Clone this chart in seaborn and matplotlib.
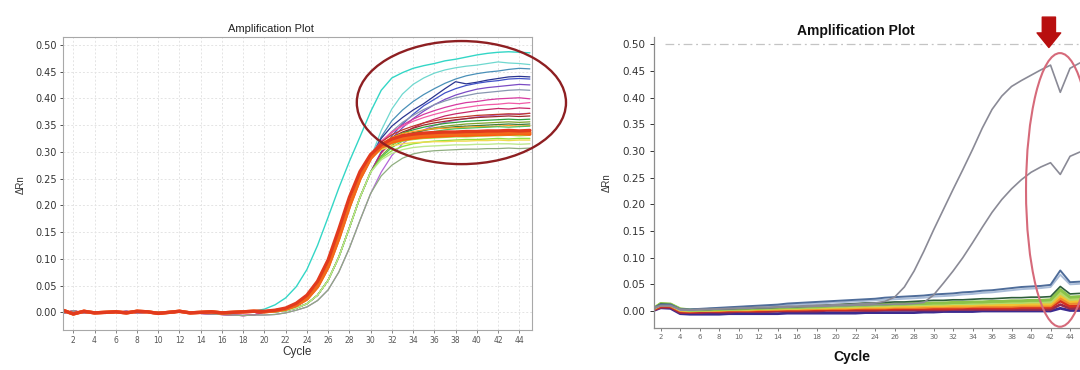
import matplotlib
matplotlib.use("Agg")
import matplotlib.pyplot as plt
import seaborn as sns
from matplotlib.patches import Ellipse

sns.set_theme(style="white")
plt.rcParams['font.family'] = ['DejaVu Sans']

# ---------------- data ----------------
cycles = list(range(1, 46))
x_ticks = list(range(2, 46, 2))
y_ticks = [0.00, 0.05, 0.10, 0.15, 0.20, 0.25, 0.30, 0.35, 0.40, 0.45, 0.50]

# Left panel: baselines (cycles 1-19), rise (cycles 20-30), plateau (cycles 31-45)
base_a = [0.004, -0.003, 0.002, -0.001, 0.000, 0.001, -0.001, 0.002, 0.001, -0.002,
          0.000, 0.002, -0.001, 0.000, 0.001, -0.001, 0.000, 0.001, 0.002]
base_b = [-0.002, 0.003, -0.001, 0.001, -0.002, 0.000, 0.002, -0.001, 0.000, 0.001,
          -0.002, 0.001, 0.000, -0.002, -0.003, -0.004, -0.005, -0.006, -0.005]

rise_early = [0.006, 0.014, 0.027, 0.048, 0.080, 0.125, 0.178, 0.232, 0.282, 0.328, 0.375]
rise_main = [0.001, 0.003, 0.006, 0.013, 0.025, 0.048, 0.085, 0.138, 0.198, 0.250, 0.288]
rise_fast = [0.002, 0.004, 0.008, 0.017, 0.032, 0.058, 0.098, 0.155, 0.215, 0.263, 0.295]
rise_late = [0.000, 0.001, 0.003, 0.008, 0.016, 0.032, 0.060, 0.103, 0.158, 0.215, 0.262]
rise_slow = [-0.005, -0.004, -0.001, 0.004, 0.010, 0.022, 0.042, 0.075, 0.120, 0.172, 0.222]

plat_cyan_a = [0.415, 0.438, 0.448, 0.456, 0.461, 0.465, 0.470, 0.473, 0.477, 0.481, 0.484, 0.486, 0.487, 0.486, 0.485]
plat_cyan_b = [0.340, 0.380, 0.408, 0.426, 0.438, 0.447, 0.453, 0.457, 0.460, 0.462, 0.465, 0.468, 0.466, 0.465, 0.463]
plat_steel = [0.328, 0.358, 0.378, 0.394, 0.407, 0.418, 0.428, 0.436, 0.442, 0.446, 0.449, 0.451, 0.454, 0.456, 0.455]
plat_navy = [0.325, 0.348, 0.364, 0.378, 0.390, 0.404, 0.418, 0.431, 0.427, 0.430, 0.434, 0.437, 0.440, 0.441, 0.440]
plat_blue = [0.300, 0.330, 0.352, 0.370, 0.386, 0.398, 0.410, 0.418, 0.424, 0.428, 0.431, 0.433, 0.436, 0.437, 0.436]
plat_purple = [0.298, 0.325, 0.345, 0.362, 0.376, 0.388, 0.398, 0.406, 0.412, 0.417, 0.420, 0.422, 0.424, 0.426, 0.425]
plat_greyblue = [0.318, 0.338, 0.355, 0.368, 0.379, 0.388, 0.395, 0.401, 0.405, 0.409, 0.411, 0.413, 0.415, 0.416, 0.415]
plat_magenta = [0.318, 0.336, 0.350, 0.361, 0.370, 0.377, 0.383, 0.388, 0.392, 0.394, 0.397, 0.399, 0.400, 0.401, 0.399]
plat_hotpink = [0.320, 0.337, 0.348, 0.357, 0.364, 0.370, 0.375, 0.380, 0.383, 0.386, 0.388, 0.389, 0.391, 0.390, 0.392]
plat_deeppink = [0.298, 0.318, 0.333, 0.345, 0.354, 0.361, 0.367, 0.371, 0.374, 0.377, 0.379, 0.381, 0.380, 0.382, 0.381]
plat_violet = [0.262, 0.293, 0.315, 0.330, 0.341, 0.349, 0.355, 0.359, 0.362, 0.365, 0.367, 0.369, 0.370, 0.371, 0.372]
plat_crimson = [0.318, 0.332, 0.341, 0.348, 0.354, 0.358, 0.362, 0.364, 0.366, 0.368, 0.369, 0.370, 0.371, 0.370, 0.372]
plat_darkred = [0.312, 0.327, 0.337, 0.344, 0.350, 0.354, 0.357, 0.360, 0.362, 0.364, 0.365, 0.366, 0.367, 0.366, 0.367]
plat_green = [0.312, 0.326, 0.335, 0.341, 0.346, 0.350, 0.353, 0.355, 0.357, 0.358, 0.359, 0.360, 0.361, 0.360, 0.361]
plat_olive = [0.292, 0.312, 0.325, 0.334, 0.340, 0.345, 0.348, 0.350, 0.352, 0.353, 0.354, 0.355, 0.356, 0.355, 0.356]
plat_darkgreen = [0.310, 0.322, 0.330, 0.336, 0.340, 0.343, 0.345, 0.347, 0.348, 0.349, 0.350, 0.351, 0.352, 0.351, 0.352]
plat_orange = [0.315, 0.327, 0.334, 0.338, 0.341, 0.343, 0.344, 0.345, 0.346, 0.347, 0.347, 0.348, 0.349, 0.348, 0.349]
plat_green2 = [0.290, 0.308, 0.320, 0.328, 0.334, 0.338, 0.341, 0.343, 0.344, 0.345, 0.346, 0.347, 0.346, 0.347, 0.348]
plat_yellowgreen = [0.306, 0.315, 0.320, 0.323, 0.325, 0.326, 0.327, 0.328, 0.328, 0.329, 0.330, 0.330, 0.331, 0.330, 0.331]
plat_lime = [0.288, 0.302, 0.310, 0.315, 0.318, 0.320, 0.321, 0.322, 0.323, 0.323, 0.324, 0.325, 0.324, 0.325, 0.325]
plat_yellow = [0.304, 0.311, 0.315, 0.317, 0.318, 0.319, 0.319, 0.320, 0.320, 0.321, 0.321, 0.322, 0.321, 0.322, 0.322]
plat_lightgreen = [0.285, 0.297, 0.304, 0.308, 0.310, 0.311, 0.312, 0.313, 0.313, 0.314, 0.314, 0.315, 0.315, 0.314, 0.315]
plat_sage = [0.255, 0.275, 0.288, 0.296, 0.300, 0.302, 0.303, 0.304, 0.305, 0.305, 0.306, 0.306, 0.307, 0.306, 0.307]
plat_thick1 = [0.310, 0.320, 0.326, 0.329, 0.331, 0.332, 0.333, 0.333, 0.334, 0.334, 0.335, 0.335, 0.336, 0.335, 0.336]
plat_thick2 = [0.313, 0.324, 0.330, 0.333, 0.335, 0.336, 0.337, 0.337, 0.338, 0.338, 0.339, 0.339, 0.340, 0.339, 0.340]
plat_thick3 = [0.309, 0.318, 0.323, 0.326, 0.328, 0.329, 0.330, 0.331, 0.331, 0.332, 0.332, 0.333, 0.333, 0.334, 0.333]

# Right panel: full series, cycles 1-45
r_grey_high = [0.004, 0.010, 0.010, 0.003, 0.002, 0.003, 0.003, 0.004, 0.005, 0.005,
               0.006, 0.007, 0.007, 0.008, 0.009, 0.009, 0.010, 0.011, 0.011, 0.012,
               0.012, 0.013, 0.014, 0.015, 0.018, 0.026, 0.045, 0.075, 0.112, 0.152,
               0.190, 0.228, 0.265, 0.303, 0.343, 0.378, 0.403, 0.421, 0.432, 0.442,
               0.452, 0.461, 0.410, 0.455, 0.465]
r_grey_low = [0.004, 0.010, 0.010, 0.003, 0.002, 0.003, 0.003, 0.004, 0.004, 0.005,
              0.005, 0.006, 0.006, 0.007, 0.007, 0.008, 0.008, 0.009, 0.009, 0.010,
              0.010, 0.011, 0.011, 0.012, 0.012, 0.013, 0.013, 0.014, 0.016, 0.030,
              0.052, 0.075, 0.100, 0.128, 0.157, 0.185, 0.209, 0.229, 0.246, 0.260,
              0.270, 0.278, 0.256, 0.290, 0.298]
r_blue = [0.003, 0.012, 0.012, 0.003, 0.003, 0.004, 0.005, 0.006, 0.007, 0.008,
          0.009, 0.010, 0.011, 0.012, 0.014, 0.015, 0.016, 0.017, 0.018, 0.019,
          0.020, 0.021, 0.022, 0.023, 0.025, 0.026, 0.027, 0.028, 0.029, 0.031,
          0.032, 0.033, 0.035, 0.036, 0.038, 0.039, 0.041, 0.043, 0.045, 0.046,
          0.047, 0.049, 0.076, 0.054, 0.055]
r_lightblue = [0.003, 0.011, 0.011, 0.002, 0.002, 0.003, 0.004, 0.005, 0.006, 0.007,
               0.008, 0.008, 0.009, 0.010, 0.011, 0.012, 0.013, 0.014, 0.015, 0.016,
               0.017, 0.018, 0.019, 0.020, 0.021, 0.022, 0.023, 0.024, 0.025, 0.027,
               0.028, 0.029, 0.031, 0.032, 0.034, 0.035, 0.037, 0.039, 0.041, 0.042,
               0.043, 0.045, 0.068, 0.050, 0.051]
r_darkgreen = [0.002, 0.013, 0.012, 0.003, 0.002, 0.003, 0.003, 0.004, 0.004, 0.005,
               0.005, 0.006, 0.006, 0.007, 0.008, 0.008, 0.009, 0.010, 0.011, 0.012,
               0.013, 0.014, 0.015, 0.015, 0.016, 0.017, 0.017, 0.018, 0.019, 0.020,
               0.020, 0.021, 0.021, 0.022, 0.023, 0.023, 0.024, 0.025, 0.025, 0.026,
               0.026, 0.027, 0.046, 0.032, 0.033]
r_green = [0.001, 0.014, 0.013, 0.004, 0.002, 0.002, 0.003, 0.003, 0.004, 0.004,
           0.005, 0.005, 0.006, 0.006, 0.007, 0.007, 0.008, 0.008, 0.009, 0.010,
           0.010, 0.011, 0.011, 0.012, 0.012, 0.013, 0.013, 0.014, 0.014, 0.015,
           0.015, 0.016, 0.016, 0.017, 0.017, 0.018, 0.018, 0.019, 0.019, 0.020,
           0.020, 0.021, 0.040, 0.026, 0.027]
r_lime = [0.002, 0.013, 0.012, 0.003, 0.001, 0.002, 0.002, 0.003, 0.003, 0.004,
          0.004, 0.005, 0.005, 0.006, 0.006, 0.006, 0.007, 0.007, 0.008, 0.008,
          0.009, 0.009, 0.010, 0.010, 0.011, 0.011, 0.012, 0.012, 0.012, 0.013,
          0.013, 0.014, 0.014, 0.014, 0.015, 0.015, 0.016, 0.016, 0.016, 0.017,
          0.017, 0.017, 0.034, 0.022, 0.023]
r_yellow = [0.003, 0.012, 0.012, 0.002, 0.001, 0.001, 0.002, 0.002, 0.003, 0.003,
            0.003, 0.004, 0.004, 0.005, 0.005, 0.005, 0.006, 0.006, 0.006, 0.007,
            0.007, 0.007, 0.008, 0.008, 0.008, 0.009, 0.009, 0.009, 0.010, 0.010,
            0.010, 0.011, 0.011, 0.011, 0.012, 0.012, 0.012, 0.012, 0.013, 0.013,
            0.013, 0.013, 0.029, 0.018, 0.019]
r_orange = [0.002, 0.011, 0.010, 0.001, 0.000, 0.001, 0.001, 0.001, 0.002, 0.002,
            0.002, 0.003, 0.003, 0.003, 0.004, 0.004, 0.004, 0.005, 0.005, 0.005,
            0.005, 0.006, 0.006, 0.006, 0.006, 0.007, 0.007, 0.007, 0.007, 0.008,
            0.008, 0.008, 0.008, 0.009, 0.009, 0.009, 0.009, 0.009, 0.010, 0.010,
            0.010, 0.010, 0.024, 0.014, 0.015]
r_red = [0.001, 0.009, 0.009, 0.000, -0.001, 0.000, 0.000, 0.000, 0.001, 0.001,
         0.001, 0.001, 0.002, 0.002, 0.002, 0.002, 0.003, 0.003, 0.003, 0.003,
         0.003, 0.004, 0.004, 0.004, 0.004, 0.004, 0.005, 0.005, 0.005, 0.005,
         0.005, 0.005, 0.006, 0.006, 0.006, 0.006, 0.006, 0.006, 0.007, 0.007,
         0.007, 0.007, 0.019, 0.009, 0.010]
r_maroon = [0.000, 0.007, 0.007, -0.003, -0.003, -0.003, -0.002, -0.002, -0.002, -0.001,
            -0.001, -0.001, -0.001, 0.000, 0.000, 0.000, 0.000, 0.000, 0.001, 0.001,
            0.001, 0.001, 0.001, 0.001, 0.002, 0.002, 0.002, 0.002, 0.002, 0.002,
            0.002, 0.003, 0.003, 0.003, 0.003, 0.003, 0.003, 0.003, 0.003, 0.003,
            0.003, 0.003, 0.012, 0.005, 0.005]
r_purple = [-0.001, 0.006, 0.005, -0.005, -0.006, -0.006, -0.006, -0.006, -0.005, -0.005,
            -0.005, -0.005, -0.005, -0.005, -0.004, -0.004, -0.004, -0.004, -0.004, -0.004,
            -0.004, -0.004, -0.003, -0.003, -0.003, -0.003, -0.003, -0.003, -0.002, -0.002,
            -0.001, -0.001, -0.001, -0.001, 0.000, 0.000, 0.000, 0.000, 0.000, 0.000,
            0.000, 0.000, 0.005, 0.001, 0.001]

# ---------------- figure ----------------
W, H = 1080, 370
fig = plt.figure(figsize=(W / 100, H / 100), dpi=100)
fig.patch.set_facecolor("white")


def px_axes(l, t, r, b):
    return [l / W, 1 - b / H, (r - l) / W, (b - t) / H]


axL = fig.add_axes(px_axes(63.3, 37.3, 531.7, 330))
axR = fig.add_axes(px_axes(654, 37, 1090, 327.7))

left_series = [
    (base_a + rise_main + plat_cyan_b, "#6fd8cf", 0.9),
    (base_a + rise_main + plat_steel, "#4a90b8", 0.9),
    (base_a + rise_main + plat_navy, "#2a3590", 0.9),
    (base_a + rise_late + plat_blue, "#4152c8", 0.9),
    (base_b + rise_late + plat_purple, "#7b4bc4", 0.9),
    (base_a + rise_main + plat_greyblue, "#8896b0", 0.9),
    (base_b + rise_main + plat_magenta, "#d63aa0", 0.9),
    (base_b + rise_fast + plat_hotpink, "#f25ca8", 0.9),
    (base_b + rise_late + plat_deeppink, "#c8286a", 0.9),
    (base_b + rise_slow + plat_violet, "#b366d9", 0.9),
    (base_a + rise_fast + plat_crimson, "#c0392b", 0.9),
    (base_a + rise_main + plat_darkred, "#9e2a2a", 0.9),
    (base_a + rise_main + plat_green, "#2e9e3e", 0.9),
    (base_a + rise_late + plat_olive, "#7fa32b", 0.9),
    (base_a + rise_main + plat_darkgreen, "#3c7a3c", 0.9),
    (base_a + rise_fast + plat_orange, "#ffa020", 0.9),
    (base_a + rise_late + plat_green2, "#55c05a", 0.9),
    (base_a + rise_main + plat_yellowgreen, "#a8d83a", 1.0),
    (base_a + rise_late + plat_lime, "#8ee040", 1.0),
    (base_a + rise_main + plat_yellow, "#f0dc50", 1.0),
    (base_a + rise_late + plat_lightgreen, "#bde890", 1.0),
    (base_b + rise_slow + plat_sage, "#8fae80", 0.9),
    (base_a + rise_early + plat_cyan_a, "#33d6c6", 1.0),
    (base_a + rise_main + plat_thick3, "#ff5a10", 2.4),
    (base_a + rise_main + plat_thick1, "#f26a1b", 2.4),
    (base_a + rise_fast + plat_thick2, "#e23a1e", 2.4),
]

for vals, col, lw in left_series:
    sns.lineplot(x=cycles, y=vals, ax=axL, color=col, lw=lw, errorbar=None, legend=False)

right_series = [
    (r_purple, "#3b2b8f", 2.0),
    (r_maroon, "#9c2a4a", 2.0),
    (r_red, "#d7301f", 2.2),
    (r_orange, "#ef8a2c", 2.2),
    (r_yellow, "#f1c232", 2.2),
    (r_lime, "#b7d968", 2.2),
    (r_green, "#8bc34a", 2.2),
    (r_darkgreen, "#2e5e3a", 1.2),
    (r_lightblue, "#a9bcd8", 1.4),
    (r_blue, "#4f6d9a", 1.4),
    (r_grey_low, "#8a8a96", 1.2),
    (r_grey_high, "#8a8a96", 1.2),
]
for vals, col, lw in right_series:
    sns.lineplot(x=cycles, y=vals, ax=axR, color=col, lw=lw, errorbar=None, legend=False)

# ---------- left axes styling ----------
axL.set_xlim(1.06, 45.17)
axL.set_ylim(-0.033, 0.514)
axL.set_xticks(x_ticks)
axL.set_yticks(y_ticks)
axL.set_yticklabels([f"{v:.2f}" for v in y_ticks])
axL.set_xlabel("")
axL.set_ylabel("")
axL.grid(True, color="#e4e4e4", lw=0.7, ls=(0, (2, 2)))
for s in axL.spines.values():
    s.set_color("#a8a8a8")
    s.set_linewidth(0.8)
axL.tick_params(axis="y", labelsize=7, colors="#333333", length=2.5, width=0.6,
                direction="out", pad=2, left=True)
axL.tick_params(axis="x", labelsize=5.5, colors="#555555", length=2, width=0.5,
                direction="out", pad=2, bottom=True)
axL.add_patch(Ellipse((38.55, 0.392), 19.7, 0.23, fill=False, edgecolor="#8e1f22",
                      lw=1.7, clip_on=False, zorder=10))

# ---------- right axes styling ----------
axR.set_xlim(1.31, 46.05)
axR.set_ylim(-0.0313, 0.5137)
axR.set_xticks(x_ticks)
axR.set_yticks(y_ticks)
axR.set_yticklabels([f"{v:.2f}" for v in y_ticks])
axR.set_xlabel("")
axR.set_ylabel("")
axR.spines["top"].set_visible(False)
axR.spines["right"].set_visible(False)
for k in ("left", "bottom"):
    axR.spines[k].set_color("#8c8c8c")
    axR.spines[k].set_linewidth(0.9)
axR.tick_params(axis="y", labelsize=7.5, colors="#333333", length=3, width=0.7,
                direction="out", pad=3, left=True)
axR.tick_params(axis="x", labelsize=5, colors="#666666", length=2.5, width=0.6,
                direction="out", pad=2, bottom=True)
axR.axhline(0.5, xmin=0.025, color="#c4c4c4", lw=0.9, ls=(0, (7, 3, 1.5, 3)), zorder=0)
axR.add_patch(Ellipse((42.97, 0.227), 6.97, 0.513, fill=False, edgecolor="#d66a7a",
                      lw=1.5, clip_on=False, zorder=10))
axR.annotate("", xy=(41.83, 0.494), xytext=(41.83, 0.551),
             arrowprops=dict(arrowstyle="simple,head_width=1.7,head_length=1.05,tail_width=0.95",
                             color="#b80f0f", mutation_scale=10, shrinkA=0, shrinkB=0),
             annotation_clip=False)

# ---------- texts ----------
lib = ["Liberation Sans", "DejaVu Sans"]
fig.text(271 / W, 1 - 28.6 / H, "Amplification Plot", ha="center", va="center",
         fontsize=8, color="#222222", family=lib)
fig.text(297 / W, 1 - 352.5 / H, "Cycle", ha="center", va="center",
         fontsize=8.5, color="#333333", family=lib)
fig.text(20.4 / W, 1 - 185 / H, "ΔRn", ha="center", va="center", rotation=90,
         fontsize=7, color="#333333", family=lib)

fig.text(856 / W, 1 - 31 / H, "Amplification Plot", ha="center", va="center",
         fontsize=10, fontweight="bold", color="#111111", family=lib)
fig.text(852 / W, 1 - 357 / H, "Cycle", ha="center", va="center",
         fontsize=10, fontweight="bold", color="#111111", family=lib)
fig.text(607 / W, 1 - 183 / H, "ΔRn", ha="center", va="center", rotation=90,
         fontsize=7, color="#333333", family=lib)

fig.savefig("out.png", dpi=100, facecolor="white")
